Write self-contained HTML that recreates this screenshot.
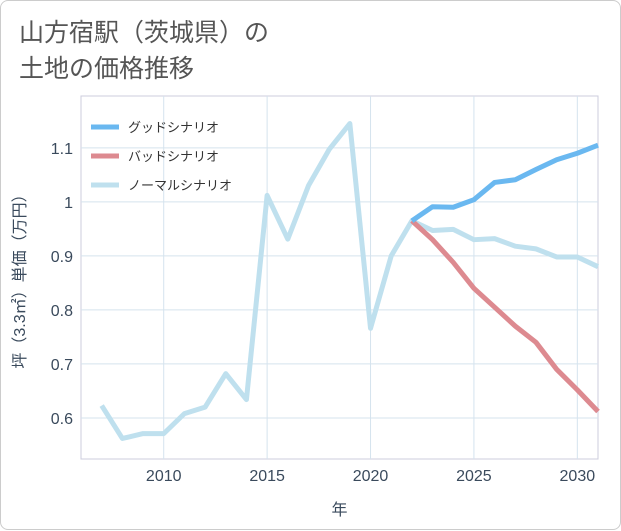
<!DOCTYPE html>
<html><head><meta charset="utf-8">
<style>
body{margin:0;background:#fff;}
#card{position:absolute;left:0;top:0;width:619px;height:528px;border:1px solid #ccc;border-radius:8px;background:#fff;font-family:"Liberation Sans","Noto Sans CJK JP",sans-serif;}
#title{position:absolute;left:18px;top:14px;font-size:25px;line-height:36px;color:#555;}
svg text{font-family:"Liberation Sans","Noto Sans CJK JP",sans-serif;}
</style></head><body>
<div id="card">
<div id="title">山方宿駅（茨城県）の<br>土地の価格推移</div>
<svg id="chart" width="621" height="530" style="position:absolute;left:0;top:0"></svg>
</div>
<script>
const years=[2007,2008,2009,2010,2011,2012,2013,2014,2015,2016,2017,2018,2019,2020,2021,2022,2023,2024,2025,2026,2027,2028,2029,2030,2031];
const normalValues=[0.623,0.562,0.571,0.571,0.608,0.620,0.682,0.634,1.012,0.931,1.030,1.097,1.145,0.766,0.900,0.965,0.947,0.949,0.930,0.932,0.918,0.913,0.898,0.898,0.880];
const forecastYears=[2022,2023,2024,2025,2026,2027,2028,2029,2030,2031];
const goodValues=[0.965,0.991,0.990,1.004,1.036,1.041,1.060,1.078,1.090,1.105];
const badValues=[0.965,0.930,0.888,0.840,0.805,0.770,0.740,0.690,0.652,0.612];
const xTicks=[2010,2015,2020,2025,2030];
const yTicks=[0.6,0.7,0.8,0.9,1,1.1];
const yTickLabels=["0.6","0.7","0.8","0.9","1","1.1"];
const L=80,R=597,T=95,B=458;
const TXT='#3a4a5c';
const x=v=>L+(v-2006)*(R-L)/25;
const y=v=>B-(v-0.524)*(B-T)/0.672;
const svg=document.getElementById('chart');
const NS='http://www.w3.org/2000/svg';
function mk(t,a){const e=document.createElementNS(NS,t);for(const k in a)e.setAttribute(k,a[k]);svg.appendChild(e);return e;}
let e=mk('rect',{x:L,y:T,width:R-L,height:B-T,fill:'#fff',stroke:'#ccd','stroke-width':1});


xTicks.forEach(v=>{
 let g=mk('line',{x1:x(v),x2:x(v),y1:T,y2:B,stroke:'#d5e3ee'});
 
 
 let t=mk('text',{x:x(v),y:B+22,'text-anchor':'middle','font-size':16,fill:TXT});t.textContent=v;
 
 
});
yTicks.forEach((v,i)=>{
 let g=mk('line',{x1:L,x2:R,y1:y(v),y2:y(v),stroke:'#d5e3ee'});
 
 
 let t=mk('text',{x:L-8,y:y(v)+6,'text-anchor':'end','font-size':16,fill:TXT});t.textContent=yTickLabels[i];
 
 
});
let xt=mk('text',{x:(L+R)/2,y:514,'text-anchor':'middle','font-size':16,fill:TXT});xt.textContent='年';


let yt=mk('text',{x:0,y:0,'text-anchor':'middle','font-size':16,fill:TXT,transform:`translate(24,${(T+B)/2}) rotate(-90)`});yt.textContent='坪（3.3㎡）単価（万円）';


function line(xs,vs,c,name){
 const d=xs.map((v,i)=>(i?'L':'M')+x(v)+','+y(vs[i])).join(' ');
 let p=mk('path',{d:d,fill:'none',stroke:c,'stroke-width':5,'stroke-linejoin':'round'});
 
 
}
line(years,normalValues,'#bfe0ee','normal-scenario-line');
line(forecastYears,badValues,'#dd8a90','bad-scenario-line');
line(forecastYears,goodValues,'#6ab8f0','good-scenario-line');
const legendLabels=['グッドシナリオ','バッドシナリオ','ノーマルシナリオ'];
const legendColors=['#6ab8f0','#dd8a90','#bfe0ee'];
legendLabels.forEach((s,i)=>{
 let ly=126+i*29;
 let l=mk('line',{x1:90,x2:118,y1:ly,y2:ly,stroke:legendColors[i],'stroke-width':5});
 
 
 let t=mk('text',{x:127,y:ly+5,'font-size':13,fill:'#333'});t.textContent=s;
 
 
});
</script>
</body></html>
